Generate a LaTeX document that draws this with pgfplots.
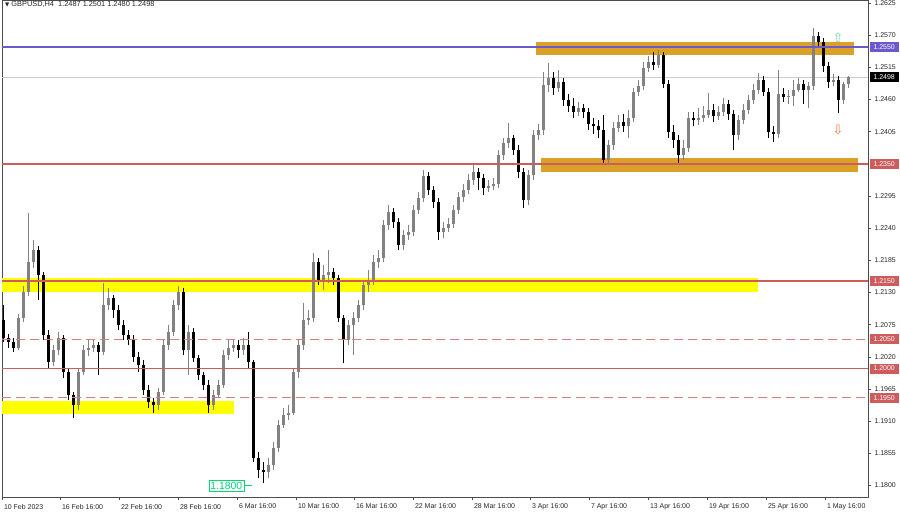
\documentclass[border=0pt]{standalone}
\usepackage{pgfplots}
\pgfplotsset{compat=1.18}
\usepackage{pgfplotstable}
\usepackage{fontspec}
\setmainfont{Liberation Sans}
\newfontfamily\dejavu{DejaVu Sans}
\definecolor{lvlblue}{RGB}{106,90,205}
\definecolor{lvlred}{RGB}{205,92,92}
\definecolor{zoneorange}{RGB}{218,160,40}
\definecolor{zoneyellow}{RGB}{255,255,0}
\definecolor{bullgray}{RGB}{130,130,130}
\definecolor{arrowgreen}{RGB}{110,210,160}
\definecolor{arroworange}{RGB}{240,120,70}
\definecolor{lblgreen}{RGB}{0,215,120}
\pgfplotstableread{
x o h l c
3 1.2083 1.2108 1.2045 1.2052
8 1.2052 1.2059 1.2035 1.2045
13 1.2045 1.2052 1.2028 1.2035
18 1.2035 1.2093 1.2032 1.2086
23 1.2086 1.2141 1.2079 1.2131
28 1.2131 1.2266 1.2124 1.2182
33 1.2182 1.2220 1.2172 1.2203
38 1.2203 1.2209 1.2117 1.2160
43 1.2160 1.2165 1.2049 1.2057
48 1.2057 1.2066 1.2001 1.2011
53 1.2011 1.2040 1.2004 1.2032
58 1.2032 1.2062 1.2023 1.2052
63 1.2052 1.2057 1.1984 1.1994
68 1.1994 1.2001 1.1946 1.1955
73 1.1955 1.1960 1.1915 1.1937
78 1.1937 1.2001 1.1929 1.1994
83 1.1994 1.2040 1.1989 1.2032
88 1.2032 1.2049 1.2021 1.2035
93 1.2035 1.2049 1.2028 1.2040
98 1.2040 1.2045 1.1989 1.2028
103 1.2028 1.2146 1.2023 1.2108
108 1.2108 1.2138 1.2100 1.2120
113 1.2120 1.2126 1.2086 1.2100
118 1.2100 1.2108 1.2066 1.2074
123 1.2074 1.2083 1.2049 1.2057
128 1.2057 1.2066 1.2040 1.2049
133 1.2049 1.2057 1.2011 1.2020
138 1.2020 1.2028 1.1994 1.2006
143 1.2006 1.2014 1.1955 1.1963
148 1.1963 1.1972 1.1932 1.1943
153 1.1943 1.1949 1.1924 1.1937
158 1.1937 1.1966 1.1929 1.1960
163 1.1960 1.2049 1.1955 1.2040
168 1.2040 1.2074 1.2032 1.2062
173 1.2062 1.2117 1.2055 1.2108
178 1.2108 1.2141 1.2100 1.2131
183 1.2131 1.2138 1.2023 1.2032
188 1.2032 1.2074 1.1989 1.2062
193 1.2062 1.2069 1.2011 1.2018
198 1.2018 1.2023 1.1980 1.1989
203 1.1989 1.1994 1.1963 1.1972
208 1.1972 1.1980 1.1924 1.1937
213 1.1937 1.1963 1.1929 1.1955
218 1.1955 1.1980 1.1949 1.1972
223 1.1972 1.2032 1.1966 1.2023
228 1.2023 1.2049 1.2014 1.2035
233 1.2035 1.2049 1.2028 1.2040
238 1.2040 1.2049 1.2018 1.2032
243 1.2032 1.2052 1.2023 1.2040
248 1.2040 1.2062 1.2001 1.2011
253 1.2011 1.2014 1.1840 1.1847
258 1.1847 1.1857 1.1813 1.1826
263 1.1826 1.1840 1.1804 1.1823
268 1.1823 1.1847 1.1813 1.1835
273 1.1835 1.1874 1.1826 1.1864
278 1.1864 1.1912 1.1857 1.1903
283 1.1903 1.1932 1.1898 1.1920
288 1.1920 1.1937 1.1912 1.1924
293 1.1924 1.2001 1.1920 1.1994
298 1.1994 1.2049 1.1984 1.2040
303 1.2040 1.2112 1.2032 1.2083
308 1.2083 1.2100 1.2074 1.2086
313 1.2086 1.2197 1.2079 1.2182
318 1.2182 1.2189 1.2143 1.2151
323 1.2151 1.2177 1.2134 1.2160
328 1.2160 1.2203 1.2146 1.2165
333 1.2165 1.2172 1.2143 1.2155
338 1.2155 1.2160 1.2079 1.2086
343 1.2086 1.2091 1.2009 1.2049
348 1.2049 1.2083 1.2040 1.2074
353 1.2074 1.2096 1.2023 1.2086
358 1.2086 1.2117 1.2079 1.2108
363 1.2108 1.2151 1.2100 1.2143
368 1.2143 1.2168 1.2131 1.2151
373 1.2151 1.2194 1.2143 1.2182
378 1.2182 1.2203 1.2172 1.2189
383 1.2189 1.2254 1.2182 1.2245
388 1.2245 1.2279 1.2237 1.2268
393 1.2268 1.2274 1.2240 1.2250
398 1.2250 1.2257 1.2203 1.2211
403 1.2211 1.2237 1.2203 1.2228
408 1.2228 1.2245 1.2220 1.2233
413 1.2233 1.2279 1.2226 1.2271
418 1.2271 1.2302 1.2264 1.2291
423 1.2291 1.2339 1.2285 1.2329
428 1.2329 1.2336 1.2297 1.2305
433 1.2305 1.2312 1.2274 1.2285
438 1.2285 1.2291 1.2220 1.2233
443 1.2233 1.2250 1.2223 1.2240
448 1.2240 1.2257 1.2233 1.2247
453 1.2247 1.2279 1.2240 1.2271
458 1.2271 1.2302 1.2264 1.2293
463 1.2293 1.2315 1.2285 1.2305
468 1.2305 1.2332 1.2298 1.2322
473 1.2322 1.2348 1.2314 1.2336
478 1.2336 1.2343 1.2305 1.2326
483 1.2326 1.2332 1.2297 1.2309
488 1.2309 1.2322 1.2302 1.2312
493 1.2312 1.2326 1.2305 1.2315
498 1.2315 1.2374 1.2309 1.2365
503 1.2365 1.2394 1.2356 1.2386
508 1.2386 1.2420 1.2377 1.2394
513 1.2394 1.2399 1.2365 1.2374
518 1.2374 1.2382 1.2326 1.2336
523 1.2336 1.2343 1.2274 1.2288
528 1.2288 1.2339 1.2279 1.2331
533 1.2331 1.2408 1.2322 1.2399
538 1.2399 1.2418 1.2391 1.2408
543 1.2408 1.2507 1.2399 1.2485
548 1.2485 1.2522 1.2473 1.2497
553 1.2497 1.2507 1.2468 1.2480
558 1.2480 1.2510 1.2473 1.2490
563 1.2490 1.2497 1.2449 1.2459
568 1.2459 1.2469 1.2439 1.2449
573 1.2449 1.2462 1.2428 1.2439
578 1.2439 1.2456 1.2432 1.2445
583 1.2445 1.2452 1.2428 1.2439
588 1.2439 1.2445 1.2408 1.2418
593 1.2418 1.2428 1.2401 1.2415
598 1.2415 1.2425 1.2394 1.2408
603 1.2408 1.2433 1.2348 1.2356
608 1.2356 1.2391 1.2351 1.2382
613 1.2382 1.2421 1.2374 1.2411
618 1.2411 1.2433 1.2404 1.2421
623 1.2421 1.2435 1.2404 1.2415
628 1.2415 1.2442 1.2394 1.2428
633 1.2428 1.2480 1.2421 1.2473
638 1.2473 1.2493 1.2466 1.2483
643 1.2483 1.2524 1.2476 1.2514
648 1.2514 1.2534 1.2507 1.2524
653 1.2524 1.2541 1.2510 1.2519
658 1.2519 1.2545 1.2514 1.2536
663 1.2536 1.2541 1.2480 1.2486
668 1.2486 1.2493 1.2394 1.2404
673 1.2404 1.2416 1.2377 1.2391
678 1.2391 1.2399 1.2351 1.2365
683 1.2365 1.2391 1.2356 1.2377
688 1.2377 1.2439 1.2370 1.2428
693 1.2428 1.2439 1.2415 1.2425
698 1.2425 1.2445 1.2416 1.2428
703 1.2428 1.2449 1.2421 1.2433
708 1.2433 1.2471 1.2428 1.2442
713 1.2442 1.2452 1.2421 1.2432
718 1.2432 1.2449 1.2425 1.2439
723 1.2439 1.2462 1.2432 1.2452
728 1.2452 1.2459 1.2425 1.2435
733 1.2435 1.2442 1.2374 1.2399
738 1.2399 1.2433 1.2391 1.2425
743 1.2425 1.2452 1.2418 1.2442
748 1.2442 1.2468 1.2435 1.2459
753 1.2459 1.2486 1.2452 1.2476
758 1.2476 1.2505 1.2469 1.2493
763 1.2493 1.2500 1.2466 1.2473
768 1.2473 1.2480 1.2394 1.2404
773 1.2404 1.2415 1.2387 1.2401
778 1.2401 1.2510 1.2394 1.2469
783 1.2469 1.2480 1.2456 1.2464
788 1.2464 1.2476 1.2452 1.2466
793 1.2466 1.2493 1.2449 1.2476
798 1.2476 1.2497 1.2473 1.2486
803 1.2486 1.2493 1.2452 1.2476
808 1.2476 1.2490 1.2445 1.2483
813 1.2483 1.2582 1.2476 1.2568
818 1.2568 1.2575 1.2548 1.2558
823 1.2558 1.2565 1.2507 1.2517
828 1.2517 1.2524 1.2480 1.2490
833 1.2490 1.2503 1.2483 1.2493
838 1.2493 1.2500 1.2437 1.2459
843 1.2459 1.2490 1.2452 1.2487
848 1.2487 1.2501 1.2480 1.2498
}\candles
\begin{document}
\begin{tikzpicture}
\begin{axis}[
  at={(2bp,15bp)}, anchor=south west,
  scale only axis, width=866bp, height=497bp,
  xmin=2, xmax=868, ymin=1.17804, ymax=1.26303,
  clip=false,
  axis line style={draw=black!70, line width=0.8bp},
  xtick pos=bottom, ytick pos=right,
  yticklabel pos=right,
  tick align=outside,
  major tick length=3bp,
  tick style={draw=black!70, line width=0.6bp},
  scaled y ticks=false,
  /pgf/number format/assume math mode=true,
  y tick label style={/pgf/number format/fixed, /pgf/number format/fixed zerofill, /pgf/number format/precision=4, font=\fontsize{7}{8}\selectfont, text=black!85, anchor=west},
  ytick={1.1800,1.1855,1.1910,1.1965,1.2020,1.2075,1.2130,1.2185,1.2240,1.2295,1.2405,1.2460,1.2515,1.2570,1.2625},
  xtick={2,60,119,178,237,296,354,413,472,530,589,648,707,766,825},
  xticklabels={10 Feb 2023,16 Feb 16:00,22 Feb 16:00,28 Feb 16:00,6 Mar 16:00,10 Mar 16:00,16 Mar 16:00,22 Mar 16:00,28 Mar 16:00,3 Apr 16:00,7 Apr 16:00,13 Apr 16:00,19 Apr 16:00,25 Apr 16:00,1 May 16:00},
  x tick label style={font=\fontsize{7}{8}\selectfont, text=black!85, anchor=north west, xshift=-1.5bp, yshift=-0.5bp},
  candle/.style={draw=none, mark=none, forget plot,
    error bars/.cd, y dir=plus, y explicit, error mark=none},
]
% zones
\addplot[fill=zoneyellow, draw=none, forget plot] coordinates {(2,1.2155) (758,1.2155) (758,1.2131) (2,1.2131)} --cycle;
\addplot[fill=zoneyellow, draw=none, forget plot] coordinates {(2,1.1944) (234,1.1944) (234,1.1922) (2,1.1922)} --cycle;
\addplot[fill=zoneorange, draw=none, forget plot] coordinates {(536,1.2558) (854,1.2558) (854,1.2536) (536,1.2536)} --cycle;
\addplot[fill=zoneorange, draw=none, forget plot] coordinates {(541,1.2360) (858,1.2360) (858,1.2336) (541,1.2336)} --cycle;
% current price line
\addplot[black!20, line width=0.7bp, forget plot] coordinates {(2,1.2498) (868,1.2498)};
% wicks bull
\addplot[candle, error bar style={draw=bullgray, line width=1bp}]
  table[x=x, y expr={\thisrow{c}>=\thisrow{o} ? \thisrow{l} : nan},
        y error plus expr=\thisrow{h}-\thisrow{l}] {\candles};
% wicks bear
\addplot[candle, error bar style={draw=black, line width=1bp}]
  table[x=x, y expr={\thisrow{c}<\thisrow{o} ? \thisrow{l} : nan},
        y error plus expr=\thisrow{h}-\thisrow{l}] {\candles};
% bodies bull
\addplot[candle, error bar style={draw=bullgray, line width=3bp}]
  table[x=x, y expr={\thisrow{c}>=\thisrow{o} ? \thisrow{o} : nan},
        y error plus expr=\thisrow{c}-\thisrow{o}] {\candles};
% bodies bear
\addplot[candle, error bar style={draw=black, line width=3bp}]
  table[x=x, y expr={\thisrow{c}<\thisrow{o} ? \thisrow{c} : nan},
        y error plus expr=\thisrow{o}-\thisrow{c}] {\candles};
% level lines
\addplot[lvlblue, line width=1.3bp, forget plot] coordinates {(2,1.2550) (868,1.2550)};
\addplot[lvlred, line width=1.3bp, forget plot] coordinates {(2,1.2350) (868,1.2350)};
\addplot[lvlred, line width=1.3bp, forget plot] coordinates {(2,1.2150) (868,1.2150)};
\addplot[lvlred, line width=1.6bp, forget plot] coordinates {(2,1.2000) (868,1.2000)};
\addplot[lvlred!80, line width=0.8bp, dash pattern=on 9bp off 5bp, forget plot] coordinates {(2,1.2050) (868,1.2050)};
\addplot[lvlred!80, line width=0.8bp, dash pattern=on 9bp off 5bp, forget plot] coordinates {(2,1.1950) (868,1.1950)};
% 1.1800 marker
\addplot[lblgreen, line width=0.7bp, forget plot] coordinates {(244,1.1800) (252,1.1800)};
\node[draw=lblgreen, text=lblgreen, fill=white, anchor=east, inner xsep=1.5bp, inner ysep=2bp, font=\fontsize{10.5}{11}\selectfont] at (axis cs:244,1.1800) {1.1800};
% arrows
\node[text=arrowgreen, font=\dejavu\fontsize{13}{13}\selectfont] at (axis cs:838,1.2566) {⇧};
\node[text=arroworange, font=\dejavu\fontsize{13}{13}\selectfont] at (axis cs:838,1.2408) {⇩};
% right price labels
\tikzset{plabel/.style={anchor=west, inner sep=1bp, minimum width=29bp, minimum height=10bp, text=white, font=\fontsize{7}{8}\selectfont, xshift=1.5bp}}
\node[plabel, fill=lvlblue] at (axis cs:868,1.2550) {1.2550};
\node[plabel, fill=black] at (axis cs:868,1.2498) {1.2498};
\node[plabel, fill=lvlred] at (axis cs:868,1.2350) {1.2350};
\node[plabel, fill=lvlred] at (axis cs:868,1.2150) {1.2150};
\node[plabel, fill=lvlred] at (axis cs:868,1.2050) {1.2050};
\node[plabel, fill=lvlred] at (axis cs:868,1.2000) {1.2000};
\node[plabel, fill=lvlred] at (axis cs:868,1.1950) {1.1950};
% header
\node[anchor=north west, inner sep=0pt, font=\fontsize{7.4}{8}\selectfont, text=black!85] at (rel axis cs:0,1) [xshift=3bp, yshift=-1.5bp] {{\dejavu\fontsize{5.5}{6}\selectfont ▼}\ GBPUSD,H4\ \ 1.2487 1.2501 1.2480 1.2498};
\end{axis}
\pgfresetboundingbox
\path[use as bounding box] (0,0) rectangle (900bp,512bp);
\end{tikzpicture}
\end{document}
